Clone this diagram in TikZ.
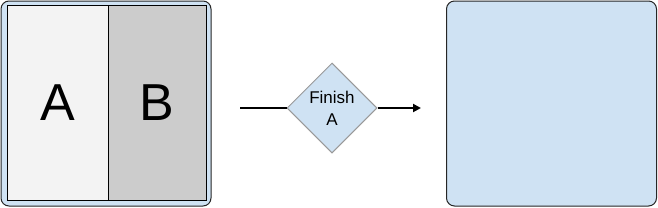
\documentclass[tikz,border=0pt]{standalone}
\usepackage{fontspec}
\setmainfont{Liberation Sans}
\usetikzlibrary{arrows.meta,positioning,shapes.geometric}
\definecolor{figpane}{RGB}{207,226,243}
\definecolor{figlight}{RGB}{243,243,243}
\definecolor{figdark}{RGB}{204,204,204}
\definecolor{figedge}{RGB}{153,153,153}
\tikzset{
  fscreen/.style={draw=black!85,fill=figpane,rounded corners=8pt,line width=1pt,
                  minimum width=210pt,minimum height=205pt,inner sep=0pt},
  fhalf/.style={draw=black,line width=0.8pt,minimum height=195pt,inner sep=0pt,
                font=\fontsize{52}{52}\selectfont},
  fdecide/.style={diamond,draw=figedge,fill=figpane,line width=1pt,aspect=1,
                  minimum width=90pt,minimum height=90pt,inner sep=0pt,align=center,
                  font=\fontsize{17}{22}\selectfont},
  fline/.style={line width=2.3pt},
  farrow/.style={fline,-{Triangle[length=8pt,width=8pt]}},
}
\begin{document}
\begin{tikzpicture}[x=1pt,y=-1pt]
  \useasboundingbox (0,0) rectangle (658,207);
  \node[fscreen] (before) at (106,103.5) {};
  \node[fhalf,fill=figlight,minimum width=101pt] (paneA) at (57.5,102.5) {A};
  \node[fhalf,fill=figdark,minimum width=98pt] (paneB) at (157,102.5) {B};
  \node[fdecide] (finish) at (332,108) {Finish\\A};
  \node[fscreen] (after) at (551.5,103.5) {};
  \coordinate (from) at (240,108);
  \coordinate (to) at (421,108);
  \draw[fline] (from) -- (finish.west);
  \draw[farrow] (finish.east) -- (to);
\end{tikzpicture}
\end{document}
